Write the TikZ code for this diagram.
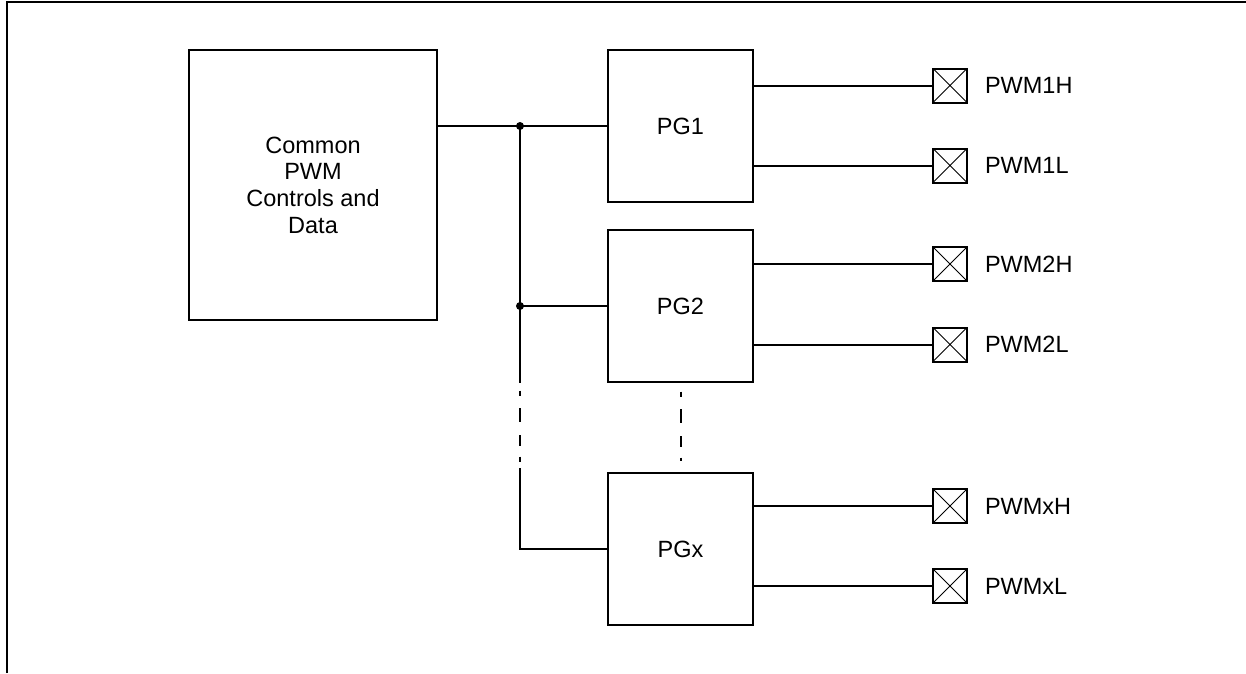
\documentclass[tikz,border=0pt]{standalone}
\usepackage{fontspec}
\setmainfont{Liberation Sans}
\begin{document}
\begin{tikzpicture}[x=1pt,y=-1pt,
  every path/.style={line width=2pt},
  lbl/.style={font=\fontsize{23.5}{26.7}\selectfont},
  blockbox/.style={draw,line width=2pt,rectangle,inner sep=0pt,lbl,align=center},
  pgbox/.style={blockbox,minimum width=145pt,minimum height=152pt},
  pinbox/.style={draw,line width=2pt,rectangle,inner sep=0pt,minimum size=34pt,
    path picture={\draw[line width=1pt] (path picture bounding box.north west) -- (path picture bounding box.south east)
      (path picture bounding box.south west) -- (path picture bounding box.north east);}},
  pinlbl/.style={lbl,anchor=west,inner sep=0pt},
  gapline/.style={line width=2pt,dash pattern=on 5.3pt off 12pt on 13.7pt off 13.3pt on 11pt off 10.7pt on 6pt off 40pt},
  junc/.style={circle,fill,inner sep=0pt,minimum size=8pt}
]
\useasboundingbox (0,0) rectangle (1246,673);
% frame
\draw (7,673) -- (7,2) -- (1246,2);

% blocks
\node[blockbox,minimum width=248pt,minimum height=270pt] (common) at (313,185) {Common\\PWM\\Controls and\\Data};
\node[pgbox] (pg1) at (680.5,126) {PG1};
\node[pgbox] (pg2) at (680.5,306) {PG2};
\node[pgbox] (pgx) at (680.5,549) {PGx};

% pins
\node[pinbox] (p1h) at (950,85.5) {};
\node[pinbox] (p1l) at (950,165.5) {};
\node[pinbox] (p2h) at (950,264) {};
\node[pinbox] (p2l) at (950,344.5) {};
\node[pinbox] (pxh) at (950,506) {};
\node[pinbox] (pxl) at (950,586) {};
\node[pinlbl] (l1h) at (984,85.5) {PWM1H};
\node[pinlbl] (l1l) at (984,165.5) {PWM1L};
\node[pinlbl] (l2h) at (984,264) {PWM2H};
\node[pinlbl] (l2l) at (984,344.5) {PWM2L};
\node[pinlbl] (lxh) at (984,506) {PWMxH};
\node[pinlbl] (lxl) at (984,586) {PWMxL};

% bus
\coordinate (j1) at (520,126);
\coordinate (j2) at (520,306);
\coordinate (j3) at (520,549);
\coordinate (d1) at (520,383);
\coordinate (d2) at (520,468);
\coordinate (g1) at (520,390.7);
\coordinate (g2) at (520,462.3);

\draw (pg1.west -| common.east) -- (j1) -- (pg1.west);
\draw (j2) -- (pg2.west);
\draw (j1) -- (d1);
\draw[gapline] (g1) -- (g2);
\draw (d2) -- (j3) -- (pgx.west);
\node[junc] (dot1) at (j1) {};
\node[junc] (dot2) at (j2) {};

\draw[gapline] ([yshift=-8.7pt]pg2.south) -- ([yshift=10.7pt]pgx.north);

% outputs
\draw (pg1.east |- p1h) -- (p1h.west);
\draw (pg1.east |- p1l) -- (p1l.west);
\draw (pg2.east |- p2h) -- (p2h.west);
\draw (pg2.east |- p2l) -- (p2l.west);
\draw (pgx.east |- pxh) -- (pxh.west);
\draw (pgx.east |- pxl) -- (pxl.west);
\end{tikzpicture}
\end{document}
